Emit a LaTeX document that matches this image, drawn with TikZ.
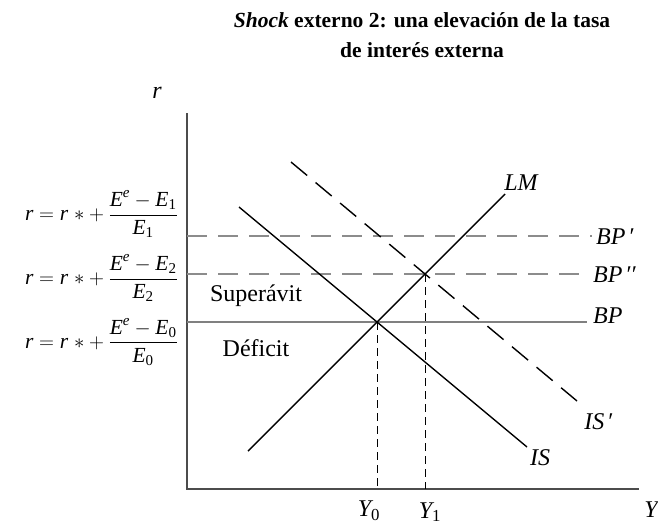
\documentclass[tikz,border=0pt]{standalone}
\usepackage{amsmath}
\usepackage{fontspec}
\setmainfont{Liberation Serif}
\newcommand\ti[1]{\text{\itshape #1}}
\begin{document}
\begin{tikzpicture}[x=1pt,y=-1pt,
  axis/.style={draw=black!70,line width=1.4pt},
  bpsolid/.style={draw=black!50,line width=1.4pt},
  bpdash/.style={draw=black!45,line width=1.4pt,dash pattern=on 20pt off 11pt},
  curve/.style={draw=black,line width=1.4pt},
  curvedash/.style={draw=black,line width=1.4pt,dash pattern=on 21pt off 11pt},
  guide/.style={draw=black,line width=0.8pt,dash pattern=on 8pt off 5pt},
  lbl/.style={font=\fontsize{24}{28}\selectfont\itshape,inner sep=0pt},
  region/.style={font=\fontsize{24}{28}\selectfont,inner sep=0pt},
  formula/.style={font=\fontsize{21.5}{25}\selectfont,inner sep=0pt,anchor=east}]
\useasboundingbox (0,0) rectangle (658,531);
% title
\node[font=\fontsize{21.5}{30}\selectfont\bfseries,align=center,inner sep=0pt] (title) at (422,35)
  {\textit{Shock} externo 2: una elevación de la tasa\\de interés externa};
% axes
\coordinate (top) at (187,113);
\coordinate (origin) at (187,489);
\coordinate (right) at (639,489);
\draw[axis] (top) -- (origin) -- (right);
\node[lbl] (rlab) at (157,93) {r};
\node[lbl] (ylab) at (651,510) {Y};
% BP lines
\coordinate (bp0a) at (187,322); \coordinate (bp0b) at (587,322);
\coordinate (bp2a) at (187,274); \coordinate (bp2b) at (588,274);
\coordinate (bp1a) at (187,236); \coordinate (bp1b) at (592,236);
\draw[bpsolid] (bp0a) -- (bp0b);
\draw[bpdash] (bp2a) -- (bp2b);
\draw[bpdash] (bp1a) -- (bp1b);
% curves
\coordinate (lma) at (248,451); \coordinate (lmb) at (505,194);
\coordinate (isa) at (239,207); \coordinate (isb) at (527,447);
\coordinate (ispa) at (291,162); \coordinate (ispb) at (577,401);
\draw[curve] (lma) -- (lmb);
\draw[curve] (isa) -- (isb);
\draw[curvedash] (ispa) -- (ispb);
% equilibria
\coordinate (e0) at (377,322); \coordinate (e1) at (425,274);
\coordinate (y0) at (377,489); \coordinate (y1) at (425,489);
\draw[guide] (e0) -- (y0);
\draw[guide] (e1) -- (y1);
% labels
\node[lbl] (lmlab) at (521,183) {LM};
\node[lbl,anchor=west] (bp1lab) at (596,237) {BP\,\textup{\char"2032}};
\node[lbl,anchor=west] (bp2lab) at (593,275) {BP\,\textup{\char"2032\char"2032}};
\node[lbl,anchor=west] (bp0lab) at (593,316) {BP};
\node[lbl] (isplab) at (599,422) {IS\,\textup{\char"2032}};
\node[lbl] (islab) at (540,458) {IS};
\node[lbl] (y0lab) at (369,511) {Y$_{\text{\upshape 0}}$};
\node[lbl] (y1lab) at (430,512) {Y$_{\text{\upshape 1}}$};
\node[region] (sup) at (256,296) {Superávit};
\node[region] (def) at (256,348) {Déficit};
% formulas
\node[formula] (f1) at (178,214) {$\ti{r} = \ti{r}\;{*} + \dfrac{\ti{E}^{\ti{e}} - \ti{E}_{\text{1}}}{\ti{E}_{\text{1}}}$};
\node[formula] (f2) at (178,278) {$\ti{r} = \ti{r}\;{*} + \dfrac{\ti{E}^{\ti{e}} - \ti{E}_{\text{2}}}{\ti{E}_{\text{2}}}$};
\node[formula] (f0) at (178,342) {$\ti{r} = \ti{r}\;{*} + \dfrac{\ti{E}^{\ti{e}} - \ti{E}_{\text{0}}}{\ti{E}_{\text{0}}}$};
\end{tikzpicture}
\end{document}
